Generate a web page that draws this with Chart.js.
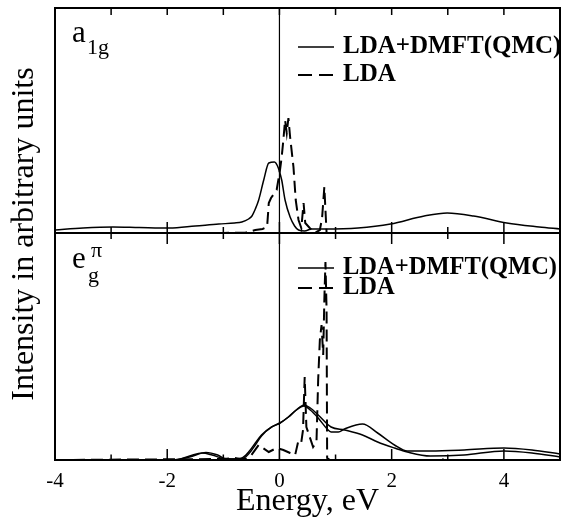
<!DOCTYPE html>
<html><head><meta charset="utf-8">
<script src="https://cdn.jsdelivr.net/npm/chart.js@4.4.1/dist/chart.umd.min.js"></script>
<style>html,body{margin:0;padding:0;background:#fff;}canvas{display:block;}</style>
</head><body>
<canvas id="c" width="569" height="518" style="width:569px;height:518px"></canvas>
<script>
// ---- data ----
const xTickValues = [-4, -3, -2, -1, 0, 1, 2, 3, 4, 5];
const xTickLabels = ['-4', '', '-2', '', '0', '', '2', '', '4', ''];
const xTitle = 'Energy, eV';
const yTitle = 'Intensity in arbitrary units';
const seriesNames = ['LDA+DMFT(QMC)', 'LDA'];

// a1g panel, LDA+DMFT(QMC)
const a1gDmftE = [-4.0, -3.5, -2.97, -2.5, -1.96, -1.5, -1.08, -0.8, -0.67, -0.55, -0.49, -0.43, -0.37, -0.28, -0.19, -0.09, -0.02, 0.04, 0.1, 0.19, 0.27, 0.34, 0.45, 0.57, 0.81, 1.4, 1.98, 2.58, 2.99, 3.46, 4.05, 4.63, 5.0];
const a1gDmftI = [3, 5, 6, 5.5, 5, 7, 9, 10, 11, 14, 17, 24, 33, 53, 70, 71, 65, 53, 33, 16, 7, 3, 2, 4, 4, 5, 9, 17, 20, 17, 10, 6, 4];
// a1g panel, LDA
const a1gLdaE = [-4.0, -1.0, -0.6, -0.43, -0.3, -0.22, -0.19, -0.15, -0.05, 0.01, 0.04, 0.07, 0.1, 0.13, 0.16, 0.19, 0.25, 0.29, 0.34, 0.39, 0.43, 0.46, 0.54, 0.63, 0.72, 0.76, 0.8, 0.82, 0.84, 1.5, 2.9, 2.95, 3.0, 5.0];
const a1gLdaI = [0, 0, 0.5, 3, 4, 6, 30, 35, 43, 63, 76, 93, 113, 100, 115, 96, 66, 33, 13, 5, 30, 10, 5, 0, 3, 15, 46, 23, 0, 0, 0, 2, 0, 0];

// eg(pi) panel, LDA+DMFT(QMC), two curves
const egDmftAE = [-4.0, -1.87, -1.6, -1.38, -1.2, -1.0, -0.85, -0.67, -0.55, -0.43, -0.32, -0.14, 0.01, 0.16, 0.3, 0.44, 0.55, 0.69, 0.85, 0.92, 1.05, 1.16, 1.48, 1.75, 2.05, 2.28, 2.69, 3.29, 4.0, 4.5, 5.0];
const egDmftAI = [0, 0, 4, 7, 5, 1.5, 1, 2, 8, 17, 25, 33, 37, 43, 50, 54, 50, 42, 31, 28, 28, 31, 36, 27, 15, 9, 9, 10, 12, 10, 6];
const egDmftBE = [-4.0, -1.9, -1.6, -1.31, -1.1, -0.95, -0.67, -0.55, -0.43, -0.32, -0.14, 0.01, 0.16, 0.3, 0.44, 0.55, 0.69, 0.92, 1.16, 1.48, 1.75, 2.05, 2.28, 2.69, 3.29, 4.0, 4.5, 5.0];
const egDmftBI = [0, 0, 3, 7.5, 5, 1, 1, 6, 15, 24, 33, 37, 43, 50, 55, 52, 45, 33, 30, 25, 18, 12, 8, 4, 5, 9, 7, 3];
// eg(pi) panel, LDA
const egLdaE = [-4.0, -1.0, -0.8, -0.7, -0.6, -0.5, -0.37, -0.19, -0.05, 0.07, 0.19, 0.28, 0.34, 0.39, 0.42, 0.45, 0.48, 0.54, 0.6, 0.66, 0.69, 0.72, 0.75, 0.78, 0.8, 0.82, 0.84, 0.85, 0.9, 2.9, 2.95, 3.0, 5.0];
const egLdaI = [0, 1, 2, 1, 1, 5, 15, 8, 12, 10, 7, 5, 20, 18, 30, 83, 33, 23, 13, 18, 80, 120, 135, 105, 160, 198, 150, 2, 0, 0, 2, 0, 0];

const pts = (xs, ys) => xs.map((x, i) => ({x: x, y: ys[i]}));

const serif = "'Liberation Serif', 'Times New Roman', serif";

const framePlugin = {
  id: 'frame',
  beforeDatasetsDraw(chart) {
    const ctx = chart.ctx, ca = chart.chartArea, xs = chart.scales.x;
    const x0 = xs.getPixelForValue(0);
    ctx.save();
    ctx.strokeStyle = '#000'; ctx.lineWidth = 1.2;
    ctx.beginPath(); ctx.moveTo(x0, ca.top); ctx.lineTo(x0, ca.bottom); ctx.stroke();
    ctx.restore();
  },
  afterDatasetsDraw(chart) {
    const ctx = chart.ctx, ca = chart.chartArea, xs = chart.scales.x;
    const yMid = chart.scales.yTop.bottom;
    ctx.save();
    ctx.strokeStyle = '#000';
    ctx.lineWidth = 2;
    ctx.strokeRect(ca.left, ca.top, ca.right - ca.left, ca.bottom - ca.top);
    ctx.beginPath(); ctx.moveTo(ca.left, yMid); ctx.lineTo(ca.right, yMid); ctx.stroke();
    ctx.lineWidth = 1.5;
    ctx.beginPath();
    xs.ticks.forEach((t) => {
      const px = xs.getPixelForValue(t.value);
      const major = t.value % 2 === 0;
      const lb = major ? 11 : 5.5, lm = major ? 11 : 6, lt = 7;
      ctx.moveTo(px, ca.bottom); ctx.lineTo(px, ca.bottom - lb);
      ctx.moveTo(px, yMid - lm); ctx.lineTo(px, yMid + lm);
      ctx.moveTo(px, ca.top); ctx.lineTo(px, ca.top + lt);
    });
    ctx.moveTo(ca.left, yMid); ctx.lineTo(ca.left + 5, yMid);
    ctx.moveTo(ca.right, yMid); ctx.lineTo(ca.right - 5, yMid);
    ctx.stroke();
    ctx.restore();
  },
  afterDraw(chart) {
    const ctx = chart.ctx, ca = chart.chartArea;
    const yT = chart.scales.yTop, yB = chart.scales.yBot;
    ctx.save();
    ctx.fillStyle = '#000';
    ctx.textBaseline = 'alphabetic';
    ctx.textAlign = 'left';
    // panel labels
    ctx.font = '31px ' + serif;
    ctx.fillText('a', ca.left + 17, yT.top + 34);
    ctx.font = '22px ' + serif;
    ctx.fillText('1g', ca.left + 32, yT.top + 46);
    ctx.font = '31px ' + serif;
    ctx.fillText('e', ca.left + 17, yB.top + 35);
    ctx.font = '22px ' + serif;
    ctx.fillText('\u03C0', ca.left + 36, yB.top + 24);
    ctx.fillText('g', ca.left + 33, yB.top + 49);
    // legends
    const drawLegend = (yA, yB2, size) => {
      const sx1 = ca.left + 243, sx2 = ca.left + 279, tx = ca.left + 288;
      ctx.strokeStyle = '#000';
      ctx.lineWidth = 1.5; ctx.setLineDash([]);
      ctx.beginPath(); ctx.moveTo(sx1, yA); ctx.lineTo(sx2, yA); ctx.stroke();
      ctx.lineWidth = 2; ctx.setLineDash([14, 7]);
      ctx.beginPath(); ctx.moveTo(sx1, yB2); ctx.lineTo(sx2, yB2); ctx.stroke();
      ctx.setLineDash([]);
      ctx.font = 'bold ' + size + 'px ' + serif;
      ctx.textBaseline = 'middle';
      ctx.fillText(seriesNames[0], tx, yA);
      ctx.fillText(seriesNames[1], tx, yB2);
    };
    drawLegend(yT.top + 39, yT.top + 67, 25);
    drawLegend(yB.top + 35, yB.top + 55, 24.5);
    ctx.restore();
  }
};

const solid = {borderColor: '#000', borderWidth: 1.5, pointRadius: 0, fill: false, tension: 0.4, cubicInterpolationMode: 'monotone'};
const dashed = {borderColor: '#000', borderWidth: 2, pointRadius: 0, fill: false, tension: 0, borderDash: [12, 6]};

new Chart(document.getElementById('c'), {
  type: 'line',
  data: {
    datasets: [
      Object.assign({label: seriesNames[0] + ' a1g', data: pts(a1gDmftE, a1gDmftI), yAxisID: 'yTop'}, solid),
      Object.assign({label: seriesNames[1] + ' a1g', data: pts(a1gLdaE, a1gLdaI), yAxisID: 'yTop'}, dashed),
      Object.assign({label: seriesNames[0] + ' eg A', data: pts(egDmftAE, egDmftAI), yAxisID: 'yBot'}, solid),
      Object.assign({label: seriesNames[0] + ' eg B', data: pts(egDmftBE, egDmftBI), yAxisID: 'yBot'}, solid),
      Object.assign({label: seriesNames[1] + ' eg', data: pts(egLdaE, egLdaI), yAxisID: 'yBot'}, dashed)
    ]
  },
  options: {
    responsive: false,
    animation: false,
    devicePixelRatio: 1,
    layout: {padding: {top: 8, right: 5, left: 0, bottom: 0}},
    plugins: {legend: {display: false}, tooltip: {enabled: false}},
    scales: {
      x: {
        type: 'linear', position: 'bottom', min: -4, max: 5,
        afterBuildTicks: s => { s.ticks = xTickValues.map(v => ({value: v})); },
        ticks: {
          autoSkip: false, maxRotation: 0, padding: 9, color: '#000',
          font: {family: serif, size: 21},
          callback: v => { const i = xTickValues.indexOf(v); return i >= 0 ? xTickLabels[i] : ''; }
        },
        grid: {display: false, drawTicks: false},
        border: {display: false},
        title: {display: true, text: xTitle, color: '#000', font: {family: serif, size: 32, lineHeight: 1}, padding: 0},
        afterFit: s => { s.height = 58; }
      },
      yBot: {
        type: 'linear', position: 'left', stack: 'panels', stackWeight: 227, min: 0, max: 227,
        ticks: {display: false}, grid: {display: false, drawTicks: false}, border: {display: false},
        afterFit: s => { s.width = 0; }
      },
      yTop: {
        type: 'linear', position: 'left', stack: 'panels', stackWeight: 225, min: 0, max: 225,
        ticks: {display: false}, grid: {display: false, drawTicks: false}, border: {display: false},
        afterFit: s => { s.width = 0; }
      },
      yTitle: {
        type: 'linear', position: 'left', weight: 10, min: 0, max: 1,
        ticks: {display: false}, grid: {display: false, drawTicks: false}, border: {display: false},
        title: {display: true, text: yTitle, color: '#000', font: {family: serif, size: 32, lineHeight: 1}, padding: {top: 9, bottom: 0}},
        afterFit: s => { s.width = 55; }
      }
    }
  },
  plugins: [framePlugin]
});
</script>
</body></html>
